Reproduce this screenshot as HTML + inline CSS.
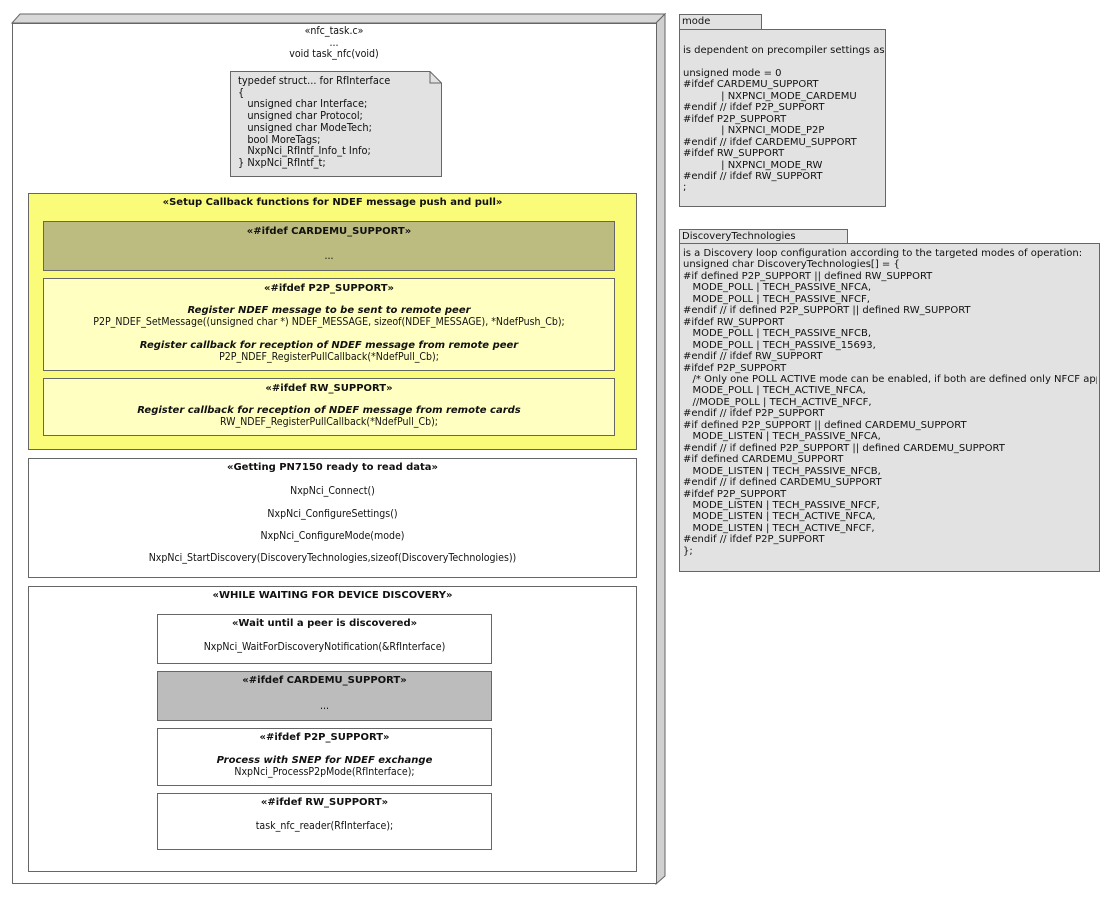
<!DOCTYPE html>
<html><head><meta charset="utf-8"><style>
body{margin:0;width:1114px;height:900px;background:#fff;position:relative;overflow:hidden;font-family:"DejaVu Sans Condensed","DejaVu Sans","Liberation Sans",sans-serif;font-size:10.5px;color:#111}
.b{position:absolute;box-sizing:border-box;border:1px solid #666}
.t{position:absolute;left:0;width:100%;text-align:center;line-height:12px;white-space:nowrap}
.bold{font-weight:bold;font-family:"DejaVu Sans","Liberation Sans",sans-serif;font-size:10px}
.it{font-weight:bold;font-style:italic;font-family:"DejaVu Sans","Liberation Sans",sans-serif;font-size:10px}
.pre{position:absolute;white-space:pre;font-family:"DejaVu Sans","Liberation Sans",sans-serif;font-size:10px;line-height:11.45px;overflow:hidden}
</style></head><body>
<svg width="1114" height="900" style="position:absolute;left:0;top:0">
<polygon points="12,23 20,14 665,14 656,23" fill="#d8d8d8" stroke="#666"/>
<polygon points="656,23 665,14 665,876 656,884" fill="#d0d0d0" stroke="#666"/>
<rect x="12.5" y="23.5" width="644" height="860" fill="#fff" stroke="#666"/>
<polygon points="230.5,71.5 430,71.5 441.5,83 441.5,176.5 230.5,176.5" fill="#e2e2e2" stroke="#666"/>
<polyline points="430,71.5 430,83 441.5,83" fill="none" stroke="#666"/>
</svg>
<div class="t" style="left:12px;width:644px;top:25px">«nfc_task.c»</div>
<div class="t" style="left:12px;width:644px;top:37px">...</div>
<div class="t" style="left:12px;width:644px;top:48px">void task_nfc(void)</div>
<div class="pre" style="left:238px;top:75px;font-family:'DejaVu Sans Condensed','DejaVu Sans',sans-serif;font-size:10.9px;line-height:11.7px">typedef struct... for RfInterface
{
   unsigned char Interface;
   unsigned char Protocol;
   unsigned char ModeTech;
   bool MoreTags;
   NxpNci_RfIntf_Info_t Info;
} NxpNci_RfIntf_t;</div>

<div class="b" style="left:28px;top:193px;width:609px;height:257px;background:#fbfb7a">
<div class="t bold" style="top:3px">«Setup Callback functions for NDEF message push and pull»</div></div>
<div class="b" style="left:43px;top:221px;width:572px;height:50px;background:#bcbc80">
<div class="t bold" style="top:4px">«#ifdef CARDEMU_SUPPORT»</div><div class="t" style="top:28px">...</div></div>
<div class="b" style="left:43px;top:278px;width:572px;height:93px;background:#ffffc2">
<div class="t bold" style="top:4px">«#ifdef P2P_SUPPORT»</div>
<div class="t it" style="top:26px">Register NDEF message to be sent to remote peer</div>
<div class="t" style="top:37px">P2P_NDEF_SetMessage((unsigned char *) NDEF_MESSAGE, sizeof(NDEF_MESSAGE), *NdefPush_Cb);</div>
<div class="t it" style="top:61px">Register callback for reception of NDEF message from remote peer</div>
<div class="t" style="top:72px">P2P_NDEF_RegisterPullCallback(*NdefPull_Cb);</div></div>
<div class="b" style="left:43px;top:378px;width:572px;height:58px;background:#ffffc2">
<div class="t bold" style="top:4px">«#ifdef RW_SUPPORT»</div>
<div class="t it" style="top:26px">Register callback for reception of NDEF message from remote cards</div>
<div class="t" style="top:37px">RW_NDEF_RegisterPullCallback(*NdefPull_Cb);</div></div>

<div class="b" style="left:28px;top:458px;width:609px;height:120px;background:#fff">
<div class="t bold" style="top:3px">«Getting PN7150 ready to read data»</div>
<div class="t" style="top:26px">NxpNci_Connect()</div>
<div class="t" style="top:49px">NxpNci_ConfigureSettings()</div>
<div class="t" style="top:71px">NxpNci_ConfigureMode(mode)</div>
<div class="t" style="top:93px">NxpNci_StartDiscovery(DiscoveryTechnologies,sizeof(DiscoveryTechnologies))</div></div>

<div class="b" style="left:28px;top:586px;width:609px;height:286px;background:#fff">
<div class="t bold" style="top:3px">«WHILE WAITING FOR DEVICE DISCOVERY»</div></div>
<div class="b" style="left:157px;top:614px;width:335px;height:50px;background:#fff">
<div class="t bold" style="top:3px">«Wait until a peer is discovered»</div>
<div class="t" style="top:26px">NxpNci_WaitForDiscoveryNotification(&amp;RfInterface)</div></div>
<div class="b" style="left:157px;top:671px;width:335px;height:50px;background:#bcbcbc">
<div class="t bold" style="top:3px">«#ifdef CARDEMU_SUPPORT»</div><div class="t" style="top:28px">...</div></div>
<div class="b" style="left:157px;top:728px;width:335px;height:58px;background:#fff">
<div class="t bold" style="top:3px">«#ifdef P2P_SUPPORT»</div>
<div class="t it" style="top:26px">Process with SNEP for NDEF exchange</div>
<div class="t" style="top:37px">NxpNci_ProcessP2pMode(RfInterface);</div></div>
<div class="b" style="left:157px;top:793px;width:335px;height:57px;background:#fff">
<div class="t bold" style="top:3px">«#ifdef RW_SUPPORT»</div>
<div class="t" style="top:26px">task_nfc_reader(RfInterface);</div></div>

<div class="b" style="left:679px;top:14px;width:83px;height:16px;background:#e2e2e2"><div class="pre" style="left:2px;top:1px;line-height:12px">mode</div></div>
<div class="b" style="left:679px;top:29px;width:207px;height:178px;background:#e2e2e2">
<div class="pre" style="left:3px;top:15px;width:202px">is dependent on precompiler settings as

unsigned mode = 0
#ifdef CARDEMU_SUPPORT
            | NXPNCI_MODE_CARDEMU
#endif // ifdef P2P_SUPPORT
#ifdef P2P_SUPPORT
            | NXPNCI_MODE_P2P
#endif // ifdef CARDEMU_SUPPORT
#ifdef RW_SUPPORT
            | NXPNCI_MODE_RW
#endif // ifdef RW_SUPPORT
;</div></div>

<div class="b" style="left:679px;top:229px;width:169px;height:15px;background:#e2e2e2"><div class="pre" style="left:2px;top:1px;line-height:12px">DiscoveryTechnologies</div></div>
<div class="b" style="left:679px;top:243px;width:421px;height:329px;background:#e2e2e2">
<div class="pre" style="left:3px;top:4px;width:414px">is a Discovery loop configuration according to the targeted modes of operation:
unsigned char DiscoveryTechnologies[] = {
#if defined P2P_SUPPORT || defined RW_SUPPORT
   MODE_POLL | TECH_PASSIVE_NFCA,
   MODE_POLL | TECH_PASSIVE_NFCF,
#endif // if defined P2P_SUPPORT || defined RW_SUPPORT
#ifdef RW_SUPPORT
   MODE_POLL | TECH_PASSIVE_NFCB,
   MODE_POLL | TECH_PASSIVE_15693,
#endif // ifdef RW_SUPPORT
#ifdef P2P_SUPPORT
   /* Only one POLL ACTIVE mode can be enabled, if both are defined only NFCF applies */
   MODE_POLL | TECH_ACTIVE_NFCA,
   //MODE_POLL | TECH_ACTIVE_NFCF,
#endif // ifdef P2P_SUPPORT
#if defined P2P_SUPPORT || defined CARDEMU_SUPPORT
   MODE_LISTEN | TECH_PASSIVE_NFCA,
#endif // if defined P2P_SUPPORT || defined CARDEMU_SUPPORT
#if defined CARDEMU_SUPPORT
   MODE_LISTEN | TECH_PASSIVE_NFCB,
#endif // if defined CARDEMU_SUPPORT
#ifdef P2P_SUPPORT
   MODE_LISTEN | TECH_PASSIVE_NFCF,
   MODE_LISTEN | TECH_ACTIVE_NFCA,
   MODE_LISTEN | TECH_ACTIVE_NFCF,
#endif // ifdef P2P_SUPPORT
};</div></div>
</body></html>
